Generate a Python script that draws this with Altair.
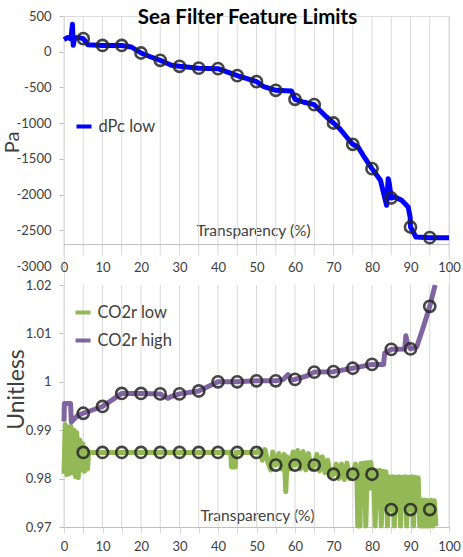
import altair as alt
import pandas as pd

# ---- shared x positions (Transparency, %) ----
grid_x = list(range(0, 101, 5))
label_x = list(range(0, 101, 10))
marker_x = list(range(5, 100, 5))

# ---- dPc low (Pa) ----
dpc_x = [0, 1, 1.8, 2.2, 2.4, 2.8, 4, 5, 6.2, 10,
         15, 17.5, 20, 22.6, 25, 27.9, 30, 35, 40, 45,
         50, 51.7, 55, 59.1, 60, 62.1, 65, 66.4, 68.2, 70,
         71.6, 73.4, 75, 76.4, 77.7, 80, 82.2, 83.8, 84.2, 84.5,
         85, 86, 87.7, 89.4, 89.9, 90, 91.4, 95, 100]
dpc_y = [170, 200, 180, 384, 90, 200, 195, 183, 99, 88,
         88, 66, -18, -74, -120, -190, -204, -230, -237, -335,
         -419, -484, -540, -550, -666, -704, -741, -820, -914, -998,
         -1077, -1194, -1296, -1334, -1450, -1637, -1800, -2150, -1777, -1850,
         -2048, -2034, -2080, -2174, -2314, -2454, -2594, -2603, -2603]
dpc_marker_y = [183, 88, 88, -18, -120, -204, -230, -237, -335, -419,
                -540, -666, -741, -998, -1296, -1637, -2048, -2454, -2603]

# ---- CO2r high (unitless) ----
high_x = [0, 0.1, 1.7, 1.9, 3.5, 5, 10, 15, 20, 25,
          26, 27, 28, 30, 35, 40, 45, 50, 55, 57,
          58.2, 59, 60, 63, 65, 70, 75, 80, 83, 83.3,
          85, 88.5, 88.8, 89.2, 90, 91.6, 92.9, 94, 95, 96.4]
high_y = [0.9918, 0.9955, 0.9955, 0.9917, 0.9930, 0.9935, 0.9949, 0.9976, 0.9976, 0.9975,
          0.9970, 0.9966, 0.9970, 0.9975, 0.9981, 1.0000, 1.0000, 1.0002, 1.0002, 1.0005,
          1.0015, 1.0003, 1.0005, 1.0012, 1.0020, 1.0021, 1.0028, 1.0036, 1.0036, 1.0059,
          1.0067, 1.0068, 1.0095, 1.0080, 1.0068, 1.0072, 1.0103, 1.0130, 1.0156, 1.0200]
high_marker_y = [0.9935, 0.9949, 0.9976, 0.9976, 0.9975, 0.9975, 0.9981, 1.0000, 1.0000, 1.0002,
                 1.0002, 1.0005, 1.0020, 1.0021, 1.0028, 1.0036, 1.0067, 1.0068, 1.0156]

# ---- CO2r low (unitless) ----
low_x = [0, 0.3, 0.7, 1.0, 1.4, 1.8, 2.2, 2.6, 3.0, 3.3,
         3.7, 4.1, 4.5, 4.9, 5.3, 5.7, 6.1, 6.4, 43.3, 43.5,
         44.5, 44.7, 50, 50.8, 51.5, 52.2, 53.0, 53.7, 54.2, 55,
         55.8, 56.5, 57.2, 57.6, 58.0, 58.8, 59.5, 60, 60.7, 61.4,
         62.1, 62.8, 63.5, 64.2, 65, 65.7, 66.4, 67.1, 67.8, 68.5,
         69.2, 70, 70.7, 71.4, 72.1, 72.8, 73.5, 74.2, 75, 75.7,
         76.1, 76.3, 76.9, 77.1, 77.6, 78.0, 78.4, 78.8, 79.3, 79.7,
         80, 80.4, 80.8, 81.2, 81.6, 82.0, 82.4, 82.8, 83.2, 83.6,
         84.0, 84.4, 84.8, 85, 85.4, 85.8, 86.2, 86.6, 87.0, 87.4,
         87.8, 88.2, 88.6, 89.0, 89.4, 89.8, 90, 90.4, 90.8, 91.2,
         91.6, 92.0, 92.4, 92.8, 93.2, 93.6, 94.0, 94.4, 94.8, 95,
         95.4, 95.8, 96.2, 96.6]
low_y = [0.9810, 0.9912, 0.9808, 0.9906, 0.9810, 0.9908, 0.9812, 0.9900, 0.9804, 0.9895,
         0.9802, 0.9880, 0.9818, 0.9872, 0.9815, 0.9862, 0.9820, 0.9854, 0.9854, 0.9824,
         0.9824, 0.9854, 0.9854, 0.9860, 0.9838, 0.9860, 0.9832, 0.9818, 0.9855, 0.9828,
         0.9852, 0.9820, 0.9850, 0.9773, 0.9845, 0.9820, 0.9855, 0.9828, 0.9858, 0.9820,
         0.9856, 0.9818, 0.9852, 0.9820, 0.9828, 0.9850, 0.9816, 0.9845, 0.9812, 0.9838,
         0.9805, 0.9809, 0.9830, 0.9800, 0.9830, 0.9798, 0.9832, 0.9800, 0.9809, 0.9830,
         0.9798, 0.9702, 0.9702, 0.9831, 0.9790, 0.9832, 0.9702, 0.9833, 0.9780, 0.9834,
         0.9809, 0.9818, 0.9702, 0.9816, 0.9740, 0.9817, 0.9702, 0.9815, 0.9760, 0.9814,
         0.9702, 0.9804, 0.9750, 0.9736, 0.9804, 0.9702, 0.9803, 0.9745, 0.9804, 0.9702,
         0.9803, 0.9760, 0.9804, 0.9702, 0.9803, 0.9750, 0.9736, 0.9804, 0.9702, 0.9803,
         0.9740, 0.9802, 0.9702, 0.9756, 0.9702, 0.9756, 0.9702, 0.9755, 0.9702, 0.9736,
         0.9755, 0.9702, 0.9754, 0.9702]
low_marker_y = [0.9854, 0.9854, 0.9854, 0.9854, 0.9854, 0.9854, 0.9854, 0.9854, 0.9854, 0.9854,
                0.9828, 0.9828, 0.9828, 0.9809, 0.9809, 0.9809, 0.9736, 0.9736, 0.9736]

# ---- axis values ----
pa_ticks = list(range(500, -3001, -500))
pa_axis_cross = [-2700]
unitless_ticks = [1.02, 1.01, 1.0, 0.99, 0.98, 0.97]

# ---- tables ----
grid_df = pd.DataFrame({"t": grid_x})
cross_df = pd.DataFrame({"v": pa_axis_cross})
dpc_df = pd.DataFrame({"t": dpc_x, "v": dpc_y, "series": "dPc low"})
dpc_mk = pd.DataFrame({"t": marker_x, "v": dpc_marker_y})
co2_df = pd.concat([
    pd.DataFrame({"t": low_x, "v": low_y, "series": "CO2r low"}),
    pd.DataFrame({"t": high_x, "v": high_y, "series": "CO2r high"}),
])
co2_mk = pd.concat([
    pd.DataFrame({"t": marker_x, "v": low_marker_y}),
    pd.DataFrame({"t": marker_x, "v": high_marker_y}),
])

# ---- styling ----
W, H = 385, 511
TOP_H = 250          # pixel height of the pressure panel
BOT_TOP = 269        # pixel row where the unitless panel starts
FONT = "Lato"
TEXT = "#404040"
GRID = "#d9d9d9"
AXIS = "#bfbfbf"
BLUE = "#0000ff"
GREEN = "#93b956"
PURPLE = "#8064a2"
RING = "#262626"

x_scale = alt.Scale(domain=[0, 100], nice=False, zero=False)
y_top = alt.Scale(domain=[-3000, 500], range=[TOP_H, 0], nice=False, zero=False)
y_bot = alt.Scale(domain=[0.97, 1.02], range=[H, BOT_TOP], nice=False, zero=False)

common_axis = dict(labelFont=FONT, labelColor=TEXT, labelFlush=False, labelOverlap=False,
                   titleFont=FONT, titleColor=TEXT, titleFontWeight="normal",
                   titleAlign="center", titleBaseline="middle", grid=False)

ax_x_top = alt.Axis(orient="bottom", offset=TOP_H - H, values=label_x, ticks=False, domain=False,
                    labelBaseline="middle", labelPadding=1, labelFontSize=13,
                    title="Transparency (%)", titleFontSize=15.5, titleX=189, titleY=-36,
                    **common_axis)
ax_y_top = alt.Axis(orient="left", values=pa_ticks, labelExpr="'' + datum.value",
                    domain=False, tickSize=5, tickColor=AXIS, labelPadding=8, labelFontSize=13,
                    title="Pa", titleFontSize=20, titleAngle=270, titleX=-52, titleY=126,
                    **common_axis)
ax_x_bot = alt.Axis(orient="bottom", values=grid_x,
                    labelExpr="datum.value % 10 == 0 ? datum.label : ''",
                    domain=True, domainColor=AXIS, tickSize=6, tickColor=GRID,
                    labelBaseline="middle", labelPadding=13, labelFontSize=13,
                    title="Transparency (%)", titleFontSize=15.5, titleX=193, titleY=-12,
                    **common_axis)
ax_y_bot = alt.Axis(orient="left", values=unitless_ticks, labelExpr="'' + datum.value",
                    domain=False, tickSize=5, tickColor=AXIS, labelPadding=8, labelFontSize=13,
                    title="Unitless", titleFontSize=23, titleAngle=270, titleX=-48, titleY=373,
                    **common_axis)

legend_common = dict(orient="none", title=None, symbolType="stroke", symbolStrokeWidth=4,
                     symbolSize=225, labelFont=FONT, labelFontSize=16.5, labelColor=TEXT,
                     labelOffset=5, padding=0)

ring_style = dict(shape="circle", filled=False, size=125, strokeWidth=2.6,
                  color=RING, opacity=0.85)

# ---- pressure panel ----
xt = alt.X("t:Q", scale=x_scale, axis=ax_x_top)
top_grid = alt.Chart(grid_df).mark_rule(color=GRID, strokeWidth=1).encode(
    x=xt, y=alt.YDatum(500, scale=y_top, axis=ax_y_top), y2=alt.datum(-2850))
top_cross = alt.Chart(cross_df).mark_rule(color=AXIS, strokeWidth=1).encode(
    x=alt.XDatum(0, scale=x_scale, axis=ax_x_top), x2=alt.datum(100),
    y=alt.Y("v:Q", scale=y_top, axis=ax_y_top))
dpc_line = alt.Chart(dpc_df).mark_line(strokeWidth=5, strokeJoin="round").encode(
    x=xt, y=alt.Y("v:Q", scale=y_top, axis=ax_y_top),
    color=alt.Color("series:N", scale=alt.Scale(domain=["dPc low"], range=[BLUE]),
                    legend=alt.Legend(legendX=10.5, legendY=101, **legend_common)))
dpc_pts = alt.Chart(dpc_mk).mark_point(**ring_style).encode(
    x=xt, y=alt.Y("v:Q", scale=y_top, axis=ax_y_top))
top = alt.layer(top_grid, top_cross, dpc_line, dpc_pts)

# ---- unitless panel ----
xb = alt.X("t:Q", scale=x_scale, axis=ax_x_bot)
bot_grid = alt.Chart(grid_df).mark_rule(color=GRID, strokeWidth=1).encode(
    x=xb, y=alt.YDatum(1.02, scale=y_bot, axis=ax_y_bot), y2=alt.datum(0.97))
co2_line = alt.Chart(co2_df).mark_line(strokeWidth=5, strokeJoin="round").encode(
    x=xb, y=alt.Y("v:Q", scale=y_bot, axis=ax_y_bot),
    color=alt.Color("series:N",
                    scale=alt.Scale(domain=["CO2r low", "CO2r high"], range=[GREEN, PURPLE]),
                    legend=alt.Legend(legendX=9.5, legendY=287, rowPadding=10, **legend_common)))
co2_pts = alt.Chart(co2_mk).mark_point(**ring_style).encode(
    x=xb, y=alt.Y("v:Q", scale=y_bot, axis=ax_y_bot))
bottom = alt.layer(bot_grid, co2_line, co2_pts)

chart = (
    alt.layer(top, bottom)
    .resolve_scale(x="independent", y="independent", color="independent")
    .properties(
        width=W, height=H,
        autosize=alt.AutoSizeParams(type="none"),
        padding={"left": 64, "top": 16, "right": 14, "bottom": 30},
        title=alt.TitleParams("Sea Filter Feature Limits", font=FONT, fontSize=20.5,
                              fontWeight="bold", color="#000000", anchor="middle",
                              dx=-9, offset=-34, baseline="alphabetic"),
    )
    .configure_view(stroke=None)
    .configure(background="white")
)

chart.save("out.html", embed_options={"renderer": "svg", "actions": False})
